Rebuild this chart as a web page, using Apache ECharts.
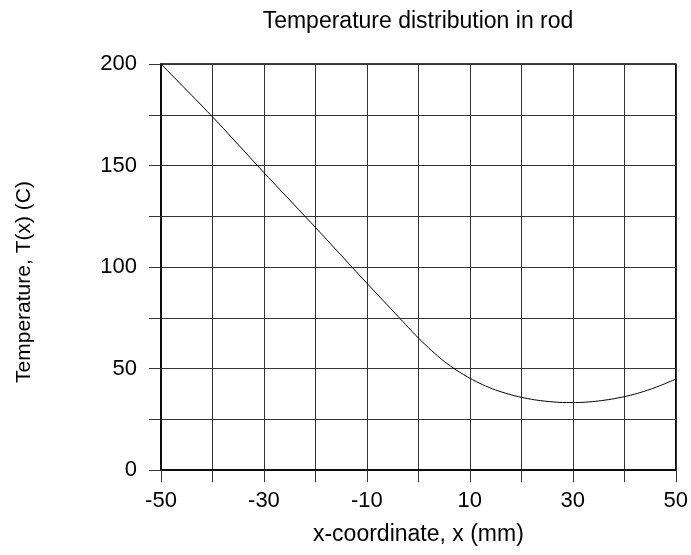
<!DOCTYPE html>
<html>
<head>
<meta charset="utf-8">
<script src="https://cdn.jsdelivr.net/npm/echarts@6/dist/echarts.min.js"></script>
<style>html,body{margin:0;padding:0;background:#fff}#c{width:691px;height:555px}</style>
</head>
<body>
<div id="c"></div>
<script>
var xValues = [-50, -40, -30, -20, -10, -5, -2.5, 0, 2.5, 5, 7.5, 10, 12.5, 15, 17.5, 20, 22.5, 25, 27.5, 30, 32.5, 35, 37.5, 40, 42.5, 45, 47.5, 50];
var tValues = [200, 174, 146.5, 119.5, 92, 78.5, 71.7, 65, 59, 53.5, 49, 45.2, 42, 39.4, 37.4, 35.8, 34.6, 33.8, 33.3, 33.2, 33.4, 34, 34.9, 36.1, 37.7, 39.7, 42.1, 44.8];
var xTickLabels = [-50, -30, -10, 10, 30, 50];
var yTickLabels = [0, 50, 100, 150, 200];

var font = '"Liberation Sans", Arial, sans-serif';
var data = xValues.map(function (x, i) { return [x, tValues[i]]; });

var chart = echarts.init(document.getElementById('c'), null, {renderer: 'canvas'});
chart.setOption({
  animation: false,
  backgroundColor: '#fff',
  title: {
    text: 'Temperature distribution in rod',
    left: 418, textAlign: 'center', top: 10, padding: 0,
    textStyle: {fontFamily: font, fontSize: 23, fontWeight: 'normal', color: '#000'}
  },
  grid: {left: 161, right: 15, top: 64, bottom: 85, show: true, borderColor: '#000', borderWidth: 1.5, backgroundColor: 'transparent'},
  xAxis: {
    type: 'value', min: -50, max: 50, interval: 10,
    name: 'x-coordinate, x (mm)', nameLocation: 'middle', nameGap: 53,
    nameTextStyle: {fontFamily: font, fontSize: 23, color: '#000'},
    axisLine: {show: true, onZero: false, lineStyle: {color: '#000', width: 1.5}},
    axisTick: {show: true, inside: false, length: 12, lineStyle: {color: '#333'}},
    axisLabel: {
      margin: 20, fontFamily: font, fontSize: 22, color: '#000',
      formatter: function (v) { return xTickLabels.indexOf(v) >= 0 ? String(v) : ''; }
    },
    splitLine: {show: true, lineStyle: {color: '#333', width: 1}}
  },
  yAxis: {
    type: 'value', min: 0, max: 200, interval: 25,
    name: 'Temperature, T(x) (C)', nameLocation: 'middle', nameGap: 126,
    nameTextStyle: {fontFamily: font, fontSize: 21, color: '#000', padding: [0, 30, 0, 0]},
    axisLine: {show: true, onZero: false, lineStyle: {color: '#000', width: 1.5}},
    axisTick: {show: true, inside: false, length: 12, lineStyle: {color: '#333'}},
    axisLabel: {
      margin: 24, fontFamily: font, fontSize: 22, color: '#000',
      formatter: function (v) { return yTickLabels.indexOf(v) >= 0 ? String(v) : ''; }
    },
    splitLine: {show: true, lineStyle: {color: '#333', width: 1}}
  },
  series: [{
    type: 'line', data: data, showSymbol: false, smooth: 0.2,
    lineStyle: {color: '#000', width: 1}
  }]
});
</script>
</body>
</html>
